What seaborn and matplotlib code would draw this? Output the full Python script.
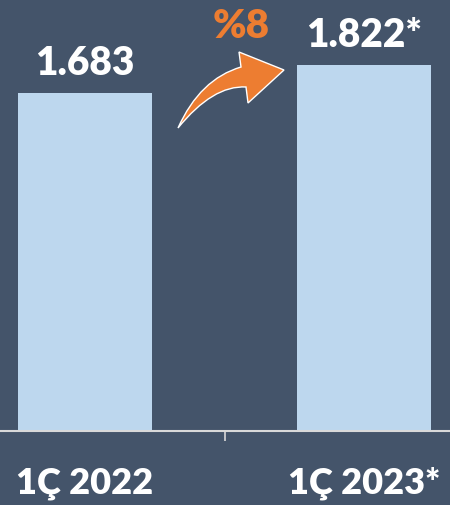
import matplotlib
matplotlib.use("Agg")
import matplotlib.pyplot as plt
import seaborn as sns
import pandas as pd
from matplotlib.path import Path
from matplotlib.patches import PathPatch

categories = ["1Ç 2022", "1Ç 2023*"]
values = [1683, 1822]
value_labels = ["1.683", "1.822*"]
growth_label = "%8"

BG = "#44546A"
BAR = "#BDD7EE"
ORANGE = "#ED7D31"
AXIS = "#D9D9D9"

sns.set_theme(style="white")
plt.rcParams["font.family"] = ["Lato", "DejaVu Sans"]

df = pd.DataFrame({"cat": categories, "val": values})

fig = plt.figure(figsize=(4.5, 5.06), dpi=100, facecolor=BG)
ax = fig.add_axes([0, 74 / 506, 1, 1 - 74 / 506])
ax.set_facecolor(BG)

sns.barplot(data=df, x="cat", y="val", color=BAR, saturation=1, width=0.48,
            linewidth=0, ax=ax)

ax.set_xlim(-85 / 279, (450 - 85) / 279)
ax.set_ylim(0, 432 / (338 / 1683))

for i, (v, lab) in enumerate(zip(values, value_labels)):
    ax.text(i, v + 95, lab, ha="center", va="baseline", color="white",
            fontsize=28, fontweight="heavy")

for s in ["top", "left", "right"]:
    ax.spines[s].set_visible(False)
ax.spines["bottom"].set_color(AXIS)
ax.spines["bottom"].set_linewidth(1.5)

ax.set_yticks([])
ax.set_xlabel("")
ax.set_ylabel("")
ax.set_xticks([0, 1])
ax.set_xticklabels(categories)
ax.set_xticks([0.5], minor=True)
ax.tick_params(axis="x", which="major", length=0, pad=25, labelsize=26,
               labelcolor="white")
ax.tick_params(axis="x", which="minor", bottom=True, length=7, width=1.2,
               color=AXIS)
for t in ax.get_xticklabels():
    t.set_fontweight("heavy")

# curved growth arrow (pixel coords -> figure fraction)
def px(x, y):
    return (x / 450, 1 - y / 506)

verts = [px(178, 129), px(200, 80), px(241, 68),
         px(239, 53), px(284, 71), px(248, 104), px(246, 88),
         px(213, 86), px(178, 129), px(178, 129)]
codes = [Path.MOVETO, Path.CURVE3, Path.CURVE3,
         Path.LINETO, Path.LINETO, Path.LINETO, Path.LINETO,
         Path.CURVE3, Path.CURVE3, Path.CLOSEPOLY]
arrow = PathPatch(Path(verts, codes), facecolor=ORANGE, edgecolor="white",
                  linewidth=1, transform=fig.transFigure, zorder=5)
fig.patches.append(arrow)

fig.text(241 / 450, 1 - 38 / 506, growth_label, ha="center", va="baseline",
         color=ORANGE, fontsize=29, fontweight="heavy")

fig.savefig("out.png", dpi=100, facecolor=BG)
